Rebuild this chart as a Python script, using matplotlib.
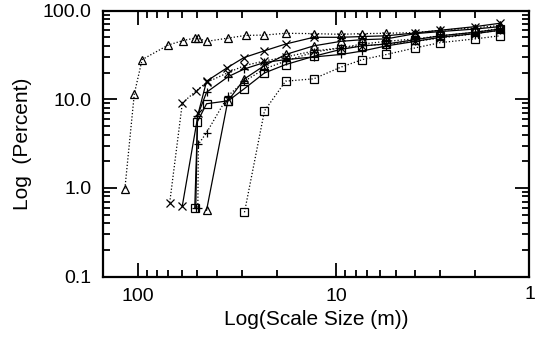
import matplotlib
matplotlib.use("Agg")
import matplotlib.pyplot as plt
from matplotlib.ticker import FixedLocator, FixedFormatter, LogLocator, NullFormatter
import matplotlib.transforms as mtransforms

plt.rcParams['font.family'] = ['Liberation Sans', 'DejaVu Sans']

# ---- data (scale size in m, percent) ----
tri_dot_x = [116, 104, 95, 70, 59, 51.5, 49.5, 45, 35, 28.6, 23, 18, 13, 9.5, 7.4, 5.6, 4.0, 3.0, 2.0, 1.5]
tri_dot_y = [0.98, 11.5, 28, 41, 46, 49, 48.5, 45, 49, 52.5, 53, 55.5, 55, 54, 55, 55.5, 56.5, 60, 64, 68]

x_dot_x = [69, 59.6, 51, 45, 35, 29, 23, 18, 13, 9.5, 7.4, 5.6, 4.0, 3.0, 2.0, 1.5]
x_dot_y = [0.68, 9.1, 12.3, 15.5, 20, 24, 27, 30, 35, 38, 40, 42, 45, 49, 55, 60]

x_sol_x = [59.6, 49.5, 45, 35.4, 29.2, 23.2, 18, 13, 9.5, 7.4, 5.6, 4.0, 3.0, 2.0, 1.5]
x_sol_y = [0.63, 7.0, 16, 22.7, 29.5, 35, 42, 50, 50, 51, 52, 56, 60, 66, 72]

sq_sol_x = [51.6, 50, 45, 35, 29, 23, 18, 13, 9.5, 7.4, 5.6, 4.0, 3.0, 2.0, 1.5]
sq_sol_y = [0.6, 5.6, 8.9, 9.6, 13.2, 19.8, 24.6, 30.5, 36.5, 40, 42, 47, 52, 57, 62]

sq_dot_x = [29, 23, 18, 13, 9.5, 7.4, 5.6, 4.0, 3.0, 2.0, 1.5]
sq_dot_y = [0.53, 7.4, 16, 17, 23, 28, 32, 38, 43.5, 48, 52]

plus_dot_x = [49.8, 49.5, 45, 35, 29, 23, 18, 13, 9.5, 7.4, 5.6, 4.0, 3.0, 2.0, 1.5]
plus_dot_y = [0.6, 3.1, 4.2, 11, 16, 22, 27, 34, 38, 42, 45, 48, 52, 57, 63]

tri_sol_x = [45, 35.2, 29, 23, 18, 13, 9.5, 7.4, 5.6, 4.0, 3.0, 2.0, 1.5]
tri_sol_y = [0.56, 9.5, 17, 24, 32, 40, 45, 47, 48, 55, 58, 62, 66]

plus_sol_x = [51, 50, 45, 35, 29, 23, 18, 13, 9.5, 7.4, 5.6, 4.0, 3.0, 2.0, 1.5]
plus_sol_y = [0.6, 6.5, 12, 18, 22, 26, 28, 30, 32, 35, 40, 45, 50, 55, 60]

y_ticks = [0.1, 1, 10, 100]
y_labels = ["0.1", "1.0", "10.0", "100.0"]
x_ticks = [100, 10]
x_labels = ["100", "10"]

fig = plt.figure(figsize=(5.35, 3.37), dpi=100)
ax = fig.add_axes([0.192, 0.1795, 0.797, 0.789])

dot = (0, (1, 1.6))
common = dict(color='black', lw=0.9, mfc='none', mec='black', mew=0.9)
ax.plot(tri_dot_x, tri_dot_y, ls=dot, marker='^', ms=6, **common)
ax.plot(x_dot_x, x_dot_y, ls=dot, marker='x', ms=6, **common)
ax.plot(x_sol_x, x_sol_y, ls='-', marker='x', ms=6, **common)
ax.plot(sq_sol_x, sq_sol_y, ls='-', marker='s', ms=5.5, **common)
ax.plot(sq_dot_x, sq_dot_y, ls=dot, marker='s', ms=5.5, **common)
ax.plot(plus_dot_x, plus_dot_y, ls=dot, marker='+', ms=6, **common)
ax.plot(tri_sol_x, tri_sol_y, ls='-', marker='^', ms=6, **common)
ax.plot(plus_sol_x, plus_sol_y, ls='-', marker='+', ms=6, **common)

ax.set_xscale('log')
ax.set_yscale('log')
ax.set_xlim(150, 1.07)
ax.set_ylim(0.1, 100)

ax.yaxis.set_major_locator(FixedLocator(y_ticks))
ax.yaxis.set_major_formatter(FixedFormatter(y_labels))
ax.yaxis.set_minor_locator(LogLocator(base=10, subs=range(2, 10)))
ax.yaxis.set_minor_formatter(NullFormatter())
ax.xaxis.set_major_locator(FixedLocator(x_ticks))
ax.xaxis.set_major_formatter(FixedFormatter(x_labels))
ax.xaxis.set_minor_locator(LogLocator(base=10, subs=range(2, 10)))
ax.xaxis.set_minor_formatter(NullFormatter())

ax.tick_params(which='both', direction='in', top=True, right=True, width=1.3, labelsize=14, colors='black')
ax.tick_params(which='major', length=10, pad=8)
ax.tick_params(which='minor', length=5)
for s in ax.spines.values():
    s.set_linewidth(1.6)

# label for 1 m sits at the right edge of the figure
trans = mtransforms.blended_transform_factory(ax.transData, ax.transAxes)
ax.text(1.0, -0.035, "1", transform=trans, ha='right', va='top', fontsize=14, clip_on=False)

ax.set_xlabel("Log(Scale Size (m))", fontsize=15, labelpad=4)
ax.set_ylabel("Log  (Percent)", fontsize=15, labelpad=8)

fig.savefig("out.png", dpi=100)
